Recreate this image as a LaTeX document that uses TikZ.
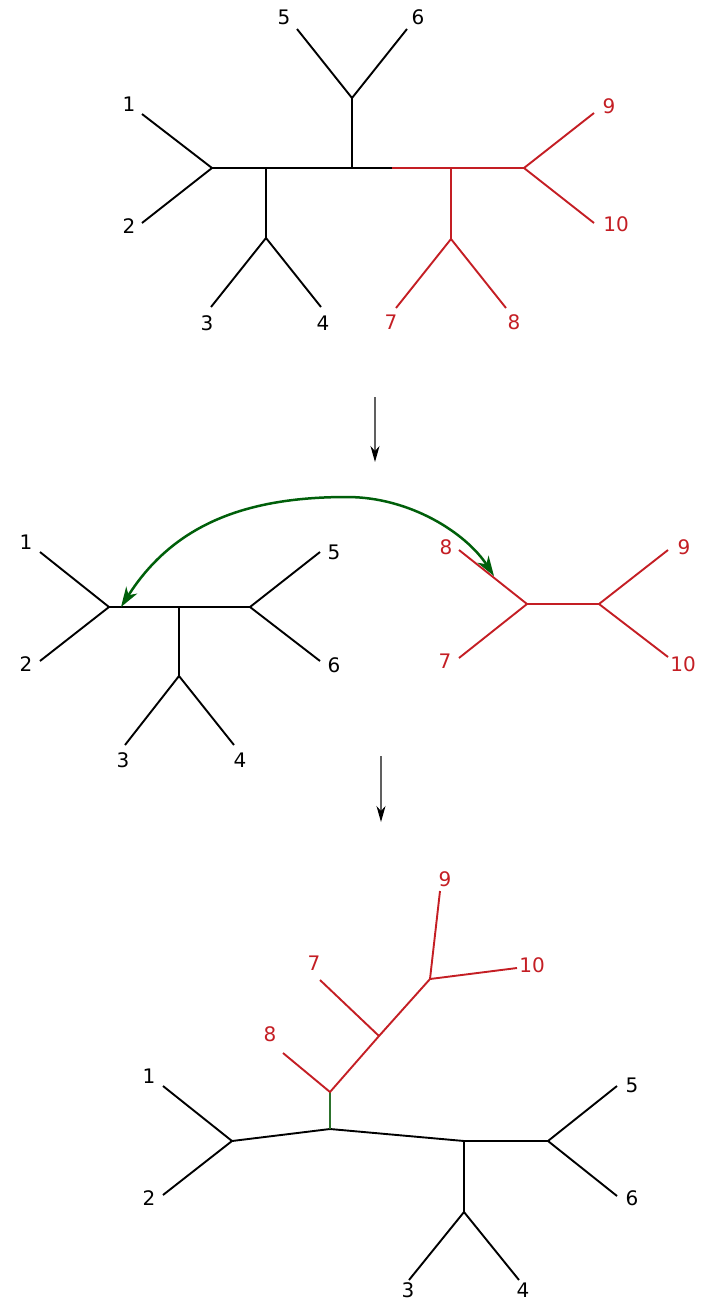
\documentclass[tikz,border=0pt]{standalone}
\usepackage{fontspec}
\setmainfont{DejaVu Sans}
\usetikzlibrary{arrows.meta}
\definecolor{treered}{RGB}{196,30,36}
\definecolor{arrgreen}{RGB}{0,95,10}
\definecolor{brgreen}{RGB}{45,115,45}
\begin{document}
\begin{tikzpicture}[x=1pt,y=-1pt,
  br/.style={line width=1.9pt, black},
  rbr/.style={line width=1.9pt, treered},
  gbr/.style={line width=1.9pt, brgreen},
  lab/.style={font=\fontsize{20}{20}\selectfont, inner sep=0pt, text=black},
  rlab/.style={lab, text=treered},
  step arrow/.style={draw=gray!75!black, line width=1.2pt, -{Stealth[black,length=16pt,width=9pt,inset=5pt]}},
  move arrow/.style={draw=arrgreen, line width=2.5pt, {Stealth[length=20pt,width=13pt,inset=6pt]}-{Stealth[length=20pt,width=13pt,inset=6pt]}}]
\useasboundingbox (0,0) rectangle (703,1301);

% ---------- top tree ----------
\coordinate (tA) at (212,168);
\coordinate (tB) at (266,168);
\coordinate (tBd) at (266,238);
\coordinate (tC) at (352,168);
\coordinate (tCu) at (352,98);
\coordinate (tX) at (392,168);
\coordinate (tD) at (451,168);
\coordinate (tDd) at (451,239);
\coordinate (tE) at (524,168);
\coordinate (t1) at (142,114);
\coordinate (t2) at (142,223);
\coordinate (t3) at (211,307);
\coordinate (t4) at (321,307);
\coordinate (t5) at (297,29);
\coordinate (t6) at (407,29);
\coordinate (t7) at (396,308);
\coordinate (t8) at (506,308);
\coordinate (t9) at (594,113);
\coordinate (t10) at (594,223);
\draw[br] (t1) -- (tA) -- (t2);
\draw[br] (tA) -- (tX);
\draw[br] (tB) -- (tBd);
\draw[br] (t3) -- (tBd) -- (t4);
\draw[br] (tC) -- (tCu);
\draw[br] (t5) -- (tCu) -- (t6);
\draw[rbr] (tX) -- (tE);
\draw[rbr] (tD) -- (tDd);
\draw[rbr] (t7) -- (tDd) -- (t8);
\draw[rbr] (t9) -- (tE) -- (t10);
\node[lab] (tl1) at (129,104) {1};
\node[lab] (tl2) at (129,226) {2};
\node[lab] (tl3) at (207,323) {3};
\node[lab] (tl4) at (323,323) {4};
\node[lab] (tl5) at (284,17) {5};
\node[lab] (tl6) at (418,17) {6};
\node[rlab] (tl7) at (391,322) {7};
\node[rlab] (tl8) at (514,322) {8};
\node[rlab] (tl9) at (609,106) {9};
\node[rlab] (tl10) at (616,224) {10};

% ---------- step arrow 1 ----------
\coordinate (s1a) at (375,397);
\coordinate (s1b) at (375,462);
\draw[step arrow] (s1a) -- (s1b);

% ---------- middle: left part ----------
\coordinate (mA) at (109,607);
\coordinate (mB) at (179,607);
\coordinate (mBd) at (179,676);
\coordinate (mC) at (250,607);
\coordinate (m1) at (40,552);
\coordinate (m2) at (40,661);
\coordinate (m3) at (125,745);
\coordinate (m4) at (234,745);
\coordinate (m5) at (320,552);
\coordinate (m6) at (320,661);
\draw[br] (m1) -- (mA) -- (m2);
\draw[br] (mA) -- (mC);
\draw[br] (mB) -- (mBd);
\draw[br] (m3) -- (mBd) -- (m4);
\draw[br] (m5) -- (mC) -- (m6);
\node[lab] (ml1) at (26,542) {1};
\node[lab] (ml2) at (26,664) {2};
\node[lab] (ml3) at (123,760) {3};
\node[lab] (ml4) at (240,760) {4};
\node[lab] (ml5) at (334,552) {5};
\node[lab] (ml6) at (334,665) {6};

% ---------- middle: red part ----------
\coordinate (mD) at (527,604);
\coordinate (mE) at (599,604);
\coordinate (m7) at (459,658);
\coordinate (m8) at (459,550);
\coordinate (m9) at (668,550);
\coordinate (m10) at (668,657);
\draw[rbr] (m8) -- (mD) -- (m7);
\draw[rbr] (mD) -- (mE);
\draw[rbr] (m9) -- (mE) -- (m10);
\node[rlab] (ml7) at (445,661) {7};
\node[rlab] (ml8) at (446,547) {8};
\node[rlab] (ml9) at (684,547) {9};
\node[rlab] (ml10) at (683,664) {10};

% ---------- green move arrow ----------
\coordinate (gS) at (121,607);
\coordinate (gT) at (347,497);
\coordinate (gE) at (494,576);
\draw[move arrow] (gS) .. controls (175,522) and (250,497) .. (gT)
                        .. controls (410,497) and (466,533) .. (gE);

% ---------- step arrow 2 ----------
\coordinate (s2a) at (381,756);
\coordinate (s2b) at (381,822);
\draw[step arrow] (s2a) -- (s2b);

% ---------- bottom tree ----------
\coordinate (bP) at (232,1141);
\coordinate (bQ) at (330,1129);
\coordinate (bR) at (464,1141);
\coordinate (bRd) at (464,1212);
\coordinate (bS) at (548,1141);
\coordinate (bG) at (330,1092);
\coordinate (bH) at (379,1036);
\coordinate (bK) at (430,979);
\coordinate (b1) at (163,1086);
\coordinate (b2) at (163,1195);
\coordinate (b3) at (409,1280);
\coordinate (b4) at (519,1280);
\coordinate (b5) at (617,1086);
\coordinate (b6) at (617,1196);
\coordinate (b7) at (320,980);
\coordinate (b8) at (283,1053);
\coordinate (b9) at (440,891);
\coordinate (b10) at (517,968);
\draw[br] (b1) -- (bP) -- (b2);
\draw[br] (bP) -- (bQ) -- (bR) -- (bS);
\draw[br] (bR) -- (bRd);
\draw[br] (b3) -- (bRd) -- (b4);
\draw[br] (b5) -- (bS) -- (b6);
\draw[gbr] (bQ) -- (bG);
\draw[rbr] (b8) -- (bG) -- (bH) -- (bK);
\draw[rbr] (b7) -- (bH);
\draw[rbr] (b9) -- (bK) -- (b10);
\node[lab] (bl1) at (149,1076) {1};
\node[lab] (bl2) at (149,1198) {2};
\node[lab] (bl3) at (408,1290) {3};
\node[lab] (bl4) at (523,1290) {4};
\node[lab] (bl5) at (632,1085) {5};
\node[lab] (bl6) at (632,1198) {6};
\node[rlab] (bl7) at (314,963) {7};
\node[rlab] (bl8) at (270,1034) {8};
\node[rlab] (bl9) at (445,879) {9};
\node[rlab] (bl10) at (532,965) {10};
\end{tikzpicture}
\end{document}
